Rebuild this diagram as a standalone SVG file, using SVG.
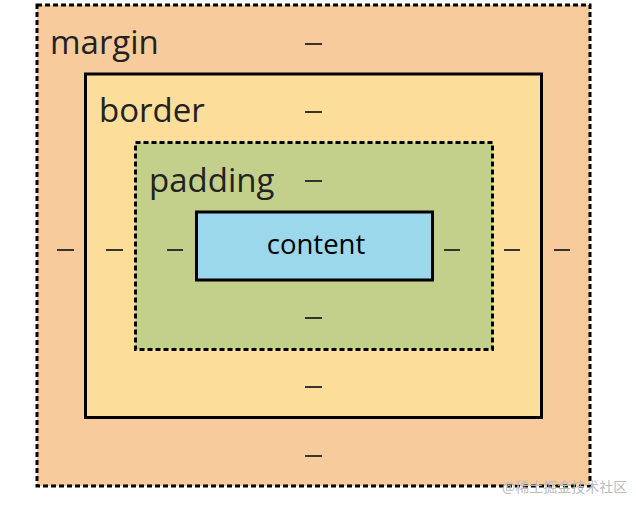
<svg xmlns="http://www.w3.org/2000/svg" width="636" height="506" viewBox="0 0 636 506">
<style>
.lbl{font-family:"Open Sans","Noto Sans",sans-serif;font-size:33px;fill:#222}
.dash{stroke:#222;stroke-width:1.8}
.dashed{stroke:#000;stroke-width:3;stroke-dasharray:5 3}
.solid{stroke:#000;stroke-width:3}
</style>
<rect width="636" height="506" fill="#fff"/>
<g id="margin">
<rect x="37" y="5" width="553" height="481" fill="#F8CB9D" class="dashed"/>
<text x="50" y="54" class="lbl">margin</text>
</g>
<g id="border">
<rect x="85.5" y="74" width="456" height="343.5" fill="#FDDD9A" class="solid"/>
<text x="99" y="122" class="lbl">border</text>
</g>
<g id="padding">
<rect x="135.5" y="142.5" width="357" height="207" fill="#C3D08B" class="dashed"/>
<text x="149" y="192" class="lbl">padding</text>
</g>
<g id="content">
<rect x="196.5" y="212" width="236" height="68" fill="#9BD8EB" class="solid"/>
<text x="316" y="254" text-anchor="middle" class="lbl" style="font-size:27.5px;fill:#000">content</text>
</g>
<g id="values">
<line x1="305" y1="44" x2="322" y2="44" class="dash"/>
<line x1="305" y1="112" x2="322" y2="112" class="dash"/>
<line x1="305" y1="181" x2="322" y2="181" class="dash"/>
<line x1="305" y1="318" x2="322" y2="318" class="dash"/>
<line x1="305" y1="387" x2="322" y2="387" class="dash"/>
<line x1="305" y1="456" x2="322" y2="456" class="dash"/>
<line x1="57" y1="250" x2="74" y2="250" class="dash"/>
<line x1="106" y1="250" x2="123" y2="250" class="dash"/>
<line x1="167" y1="250" x2="183" y2="250" class="dash"/>
<line x1="444" y1="250" x2="460" y2="250" class="dash"/>
<line x1="504" y1="250" x2="520" y2="250" class="dash"/>
<line x1="554" y1="250" x2="570" y2="250" class="dash"/>
</g>
<text x="502" y="492" style="font-family:'Noto Sans CJK SC',sans-serif;font-size:14px;fill:#bbb">@稀土掘金技术社区</text>
</svg>
